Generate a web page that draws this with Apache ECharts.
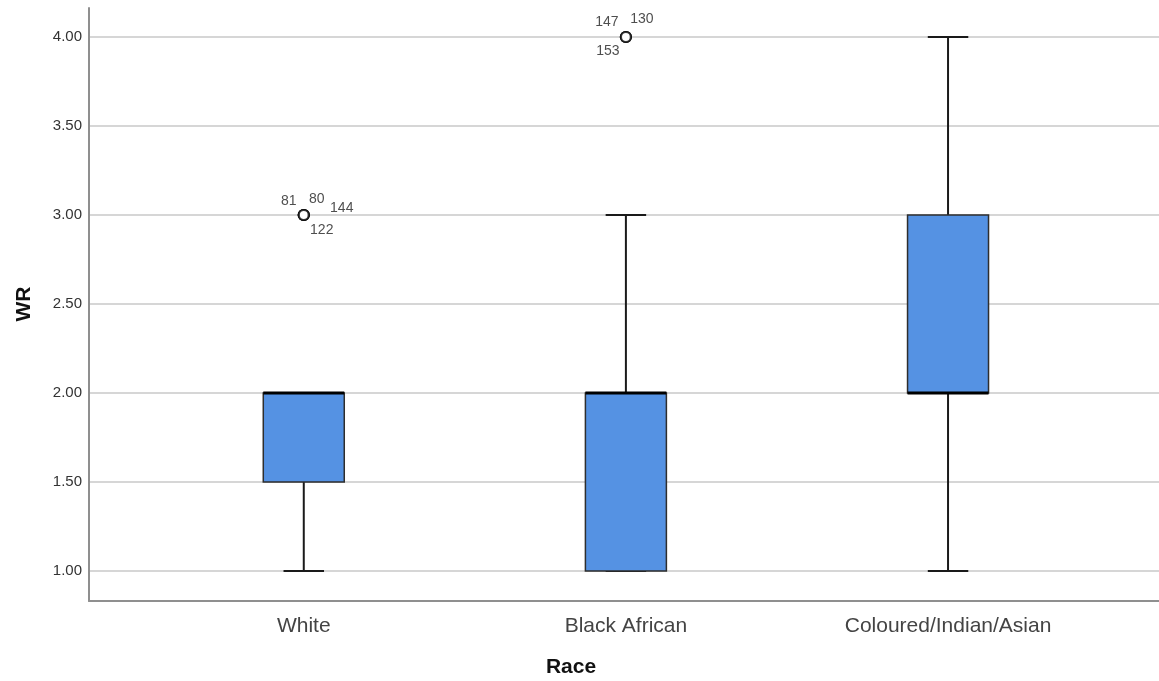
<!DOCTYPE html>
<html>
<head>
<meta charset="utf-8">
<style>
  html, body { margin: 0; padding: 0; background: #ffffff; }
  #chart { width: 1159px; height: 681px; }
</style>
<script src="https://cdn.jsdelivr.net/npm/echarts@6/dist/echarts.min.js"></script>
</head>
<body>
<div id="chart"></div>
<script>
// ---- data ----
const categories = ['White', 'Black African', 'Coloured/Indian/Asian'];
const whiskerLow  = [1.0, 1.0, 1.0];
const q1          = [1.5, 1.0, 2.0];
const median      = [2.0, 2.0, 2.0];
const q3          = [2.0, 2.0, 3.0];
const whiskerHigh = [2.0, 3.0, 4.0];
const outlierCase  = ['81', '80', '144', '122', '147', '130', '153'];
const outlierGroup = [0, 0, 0, 0, 1, 1, 1];
const outlierValue = [3.0, 3.0, 3.0, 3.0, 4.0, 4.0, 4.0];
const yMin = 1.0, yMax = 4.0, yStep = 0.5;
const xTitle = 'Race', yTitle = 'WR';

// ---- styles (label offsets for outlier case numbers) ----
const outlierLabelOffsets = [[-15, -14], [13, -16], [38, -7], [18, 15], [-19, -15], [16, -18], [-18, 14]];
const FONT = '"Liberation Sans", Arial, sans-serif';

const boxData = categories.map((c, i) => [i, whiskerLow[i], q1[i], median[i], q3[i], whiskerHigh[i]]);
const outlierData = outlierCase.map((c, i) => ({
  value: [outlierGroup[i], outlierValue[i]],
  label: { formatter: c, offset: outlierLabelOffsets[i] }
}));

const chart = echarts.init(document.getElementById('chart'), null, { renderer: 'canvas' });

function renderBox(params, api) {
  const idx = api.value(0);
  const band = api.size([1, 0])[0];
  const bw = band * 0.2514;
  const cw = bw / 2;
  const pWL = api.coord([idx, api.value(1)]);
  const pQ1 = api.coord([idx, api.value(2)]);
  const pMed = api.coord([idx, api.value(3)]);
  const pQ3 = api.coord([idx, api.value(4)]);
  const pWH = api.coord([idx, api.value(5)]);
  const cx = pQ1[0];
  const lineStyle = { stroke: '#1a1a1a', lineWidth: 2 };
  const children = [];
  if (pWL[1] !== pQ1[1]) {
    children.push({ type: 'line', shape: { x1: cx, y1: pQ1[1], x2: cx, y2: pWL[1] }, style: lineStyle });
  }
  if (pWH[1] !== pQ3[1]) {
    children.push({ type: 'line', shape: { x1: cx, y1: pQ3[1], x2: cx, y2: pWH[1] }, style: lineStyle });
  }
  children.push({ type: 'line', shape: { x1: cx - cw / 2, y1: pWL[1], x2: cx + cw / 2, y2: pWL[1] }, style: lineStyle });
  children.push({ type: 'line', shape: { x1: cx - cw / 2, y1: pWH[1], x2: cx + cw / 2, y2: pWH[1] }, style: lineStyle });
  children.push({
    type: 'rect',
    shape: { x: cx - bw / 2, y: pQ3[1], width: bw, height: pQ1[1] - pQ3[1] },
    style: { fill: '#5592e3', stroke: '#2e2e2e', lineWidth: 1.5 }
  });
  children.push({ type: 'line', shape: { x1: cx - bw / 2, y1: pMed[1], x2: cx + bw / 2, y2: pMed[1] }, style: { stroke: '#000', lineWidth: 3 } });
  return { type: 'group', children: children };
}

const option = {
  animation: false,
  backgroundColor: '#ffffff',
  title: {
    text: xTitle,
    left: 571, top: 657, textAlign: 'center', padding: 0,
    textStyle: { fontFamily: FONT, fontSize: 21, fontWeight: 'bold', color: '#111' }
  },
  grid: [
    { left: 89, right: 0, top: 8, bottom: 80, containLabel: false },
    { left: 89, right: 0, top: 37, bottom: 110, containLabel: false },
    { left: 142.7, right: 49.9, top: 37, bottom: 110, containLabel: false }
  ],
  xAxis: [
    { gridIndex: 0, type: 'value', min: 0, max: 1,
      axisLine: { show: true, onZero: false, lineStyle: { color: '#8f8f8f', width: 2 } },
      axisTick: { show: false }, axisLabel: { show: false }, splitLine: { show: false } },
    { gridIndex: 1, type: 'value', min: 0, max: 1, show: false },
    { gridIndex: 2, type: 'category', data: categories, boundaryGap: true,
      axisLine: { show: false }, axisTick: { show: false }, splitLine: { show: false },
      axisLabel: { margin: 45, fontFamily: FONT, fontSize: 21, color: '#444' } }
  ],
  yAxis: [
    { gridIndex: 0, type: 'value', min: 0, max: 1,
      axisLine: { show: true, onZero: false, lineStyle: { color: '#8f8f8f', width: 2 } },
      axisTick: { show: false }, axisLabel: { show: false }, splitLine: { show: false } },
    { gridIndex: 1, type: 'value', min: yMin, max: yMax, interval: yStep,
      name: yTitle, nameLocation: 'middle', nameGap: 54, nameRotate: 90,
      nameTextStyle: { fontFamily: FONT, fontSize: 21, fontWeight: 'bold', color: '#111' },
      axisLine: { show: false }, axisTick: { show: false },
      axisLabel: { margin: 7, fontFamily: FONT, fontSize: 15, color: '#333', formatter: v => v.toFixed(2) },
      splitLine: { show: true, lineStyle: { color: '#d6d6d6', width: 2 } } },
    { gridIndex: 2, type: 'value', min: yMin, max: yMax, show: false }
  ],
  series: [
    {
      type: 'custom',
      xAxisIndex: 2, yAxisIndex: 2,
      renderItem: renderBox,
      encode: { x: 0, y: [1, 2, 3, 4, 5] },
      data: boxData,
      z: 3
    },
    {
      type: 'scatter',
      xAxisIndex: 2, yAxisIndex: 2,
      symbol: 'circle', symbolSize: 10,
      itemStyle: { color: '#ffffff', borderColor: '#111', borderWidth: 2.2 },
      label: { show: true, position: 'inside', fontFamily: FONT, fontSize: 14, color: '#222' },
      data: outlierData,
      z: 4
    }
  ]
};
chart.setOption(option);
</script>
</body>
</html>
